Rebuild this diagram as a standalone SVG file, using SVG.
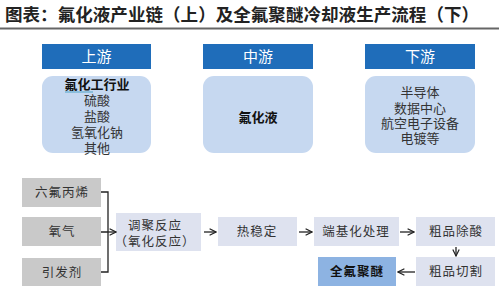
<svg xmlns="http://www.w3.org/2000/svg" width="499" height="288" viewBox="0 0 499 288">
<style>
text{font-family:"Liberation Serif","Noto Sans CJK SC",serif;fill:#333;}
.title{font-size:17.5px;font-weight:bold;fill:#222;}
.hdr{fill:#1f6dba;}
.hdrt{font-size:15px;fill:#fff;text-anchor:middle;}
.body{fill:#c6d8f0;}
.bt{font-size:13px;text-anchor:middle;}
.b{font-weight:bold;fill:#111;}
.gray{fill:#c9c9c9;}
.lite{fill:#dee2ef;}
.fin{fill:#8db3e2;}
.ft{font-size:12.5px;text-anchor:middle;letter-spacing:1px;}
.conn{fill:none;stroke:#222;stroke-width:1.3;}
</style>
<defs>
<marker id="ah" viewBox="0 0 10 10" refX="9" refY="5" markerWidth="8" markerHeight="8" orient="auto" markerUnits="userSpaceOnUse">
<path d="M1,1 L9,5 L1,9" fill="none" stroke="#222" stroke-width="1.5"/>
</marker>
</defs>
<rect width="499" height="288" fill="#fff"/>
<g id="title">
<text class="title" x="5" y="21" textLength="474" lengthAdjust="spacing">图表：氟化液产业链（上）及全氟聚醚冷却液生产流程（下）</text>
<rect x="0" y="27.5" width="499" height="2" fill="#666"/>
</g>
<g id="upstream">
<rect class="hdr" x="42" y="44" width="109" height="25"/>
<text class="hdrt" x="96.5" y="62">上游</text>
<rect class="body" x="42" y="76" width="109" height="77" rx="11"/>
<text class="bt b" x="97" y="89">氟化工行业</text>
<line x1="65" y1="92" x2="93" y2="92" stroke="#4fa3c8" stroke-width="1"/>
<text class="bt" x="97" y="105">硫酸</text>
<text class="bt" x="97" y="121">盐酸</text>
<text class="bt" x="97" y="137">氢氧化钠</text>
<text class="bt" x="97" y="153">其他</text>
</g>
<g id="midstream">
<rect class="hdr" x="203" y="44" width="110" height="25"/>
<text class="hdrt" x="258" y="62">中游</text>
<rect class="body" x="203" y="76" width="110" height="77" rx="11"/>
<text class="bt b" x="258" y="122">氟化液</text>
</g>
<g id="downstream">
<rect class="hdr" x="365" y="44" width="110" height="25"/>
<text class="hdrt" x="420" y="62">下游</text>
<rect class="body" x="365" y="76" width="110" height="77" rx="11"/>
<text class="bt" x="420" y="97">半导体</text>
<text class="bt" x="420" y="113">数据中心</text>
<text class="bt" x="420" y="128">航空电子设备</text>
<text class="bt" x="420" y="143">电镀等</text>
</g>
<g id="n-hfp">
<rect class="gray" x="22" y="178" width="79" height="29"/>
<text class="ft" x="62" y="197">六氟丙烯</text>
</g>
<g id="n-o2">
<rect class="gray" x="22" y="217" width="79" height="29"/>
<text class="ft" x="62" y="236">氧气</text>
</g>
<g id="n-init">
<rect class="gray" x="22" y="258" width="79" height="28"/>
<text class="ft" x="62" y="277">引发剂</text>
</g>
<g id="n-telo">
<rect class="lite" x="116" y="213" width="85" height="38"/>
<text class="ft" x="155" y="230">调聚反应</text>
<text class="ft" x="155" y="246">（氧化反应）</text>
</g>
<g id="n-heat">
<rect class="lite" x="218" y="217" width="79" height="29"/>
<text class="ft" x="257" y="236">热稳定</text>
</g>
<g id="n-end">
<rect class="lite" x="314" y="217" width="85" height="29"/>
<text class="ft" x="356" y="236">端基化处理</text>
</g>
<g id="n-acid">
<rect class="lite" x="416" y="217" width="79" height="29"/>
<text class="ft" x="456" y="236">粗品除酸</text>
</g>
<g id="n-cut">
<rect class="lite" x="416" y="257" width="79" height="29"/>
<text class="ft" x="456" y="276">粗品切割</text>
</g>
<g id="n-pfpe">
<rect class="fin" x="318" y="257" width="78" height="29"/>
<text class="ft b" x="357" y="276">全氟聚醚</text>
</g>
<g id="connectors">
<path class="conn" d="M101,192 H108 V272 H101 M101,232 H108"/>
<line class="conn" x1="108" y1="232" x2="116" y2="232" marker-end="url(#ah)"/>
<line class="conn" x1="204" y1="232" x2="216" y2="232" marker-end="url(#ah)"/>
<line class="conn" x1="299" y1="232" x2="312" y2="232" marker-end="url(#ah)"/>
<line class="conn" x1="400" y1="232" x2="414" y2="232" marker-end="url(#ah)"/>
<line class="conn" x1="456" y1="247" x2="456" y2="256" marker-end="url(#ah)"/>
<line class="conn" x1="415" y1="272" x2="398" y2="272" marker-end="url(#ah)"/>
</g>
</svg>
